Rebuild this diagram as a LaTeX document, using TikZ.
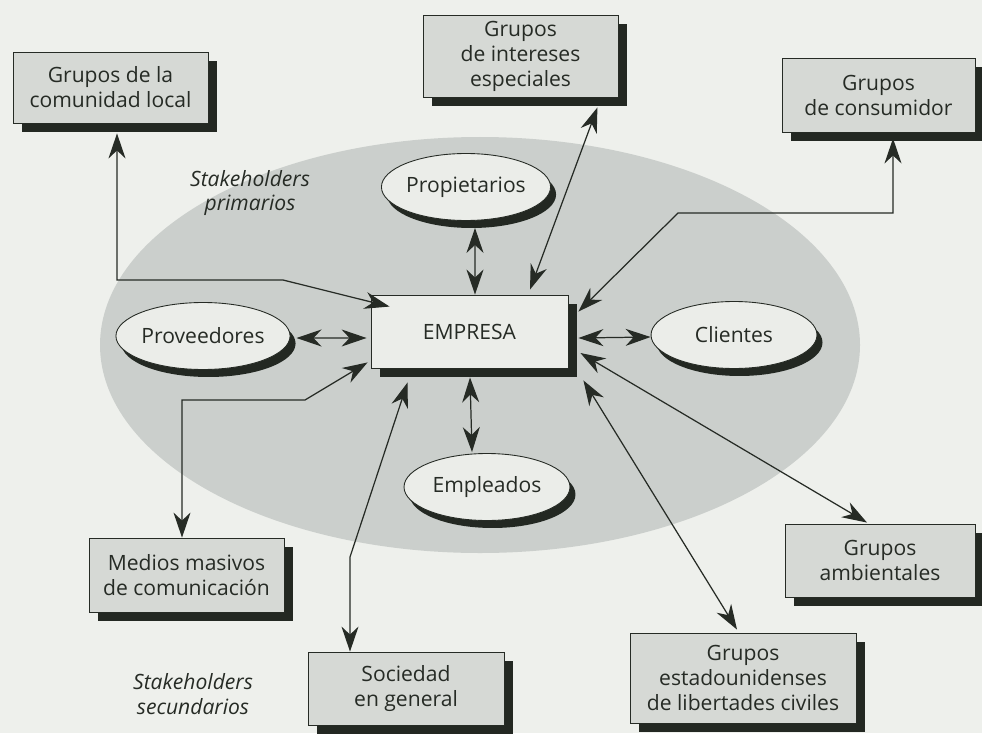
\documentclass[tikz,border=0pt]{standalone}
\usepackage{fontspec}
\setmainfont{Open Sans}
\usetikzlibrary{arrows.meta,shapes.geometric,shadows,calc}

\definecolor{paper}{HTML}{EEF0EC}
\definecolor{halo}{HTML}{CBCFCC}
\definecolor{boxfill}{HTML}{D6D9D5}
\definecolor{ovalfill}{HTML}{EBEDE9}
\definecolor{shade}{HTML}{232822}
\definecolor{ink}{HTML}{262B25}

\begin{document}
\begin{tikzpicture}[x=0.02cm,y=-0.02cm,
  font=\fontsize{12}{14.2}\selectfont, text=ink,
  holder/.style={draw=ink,fill=boxfill,line width=0.5pt,align=center,inner sep=0pt,
    drop shadow={shadow xshift=0.18cm,shadow yshift=-0.18cm,fill=shade,opacity=1}},
  core/.style={holder,fill=ovalfill,minimum width=3.94cm,minimum height=1.46cm},
  oval/.style={ellipse,draw=ink,fill=ovalfill,line width=0.5pt,inner sep=0pt,
    minimum width=3.32cm,minimum height=1.34cm,
    drop shadow={shadow xshift=0.11cm,shadow yshift=-0.15cm,fill=shade,opacity=1}},
  note/.style={align=center,font=\fontsize{12}{14.2}\selectfont\itshape},
  link/.style={draw=ink,line width=0.7pt,
    {Stealth[length=0.5cm,width=0.34cm,inset=0.16cm]}-{Stealth[length=0.5cm,width=0.34cm,inset=0.16cm]}}]
\useasboundingbox[fill=paper] (0,0) rectangle (982,733);

% fondo
\fill[halo] (480,345) ellipse [x radius=380,y radius=208];

% cajas
\node[holder,minimum width=3.9cm,minimum height=1.42cm] (com) at (110.5,87.5) {Grupos de la\\comunidad local};
\node[holder,minimum width=3.9cm,minimum height=1.64cm] (int) at (520.5,56) {Grupos\\de intereses\\especiales};
\node[holder,minimum width=3.86cm,minimum height=1.48cm] (cons) at (878.5,95) {Grupos\\de consumidor};
\node[holder,minimum width=3.9cm,minimum height=1.48cm] (med) at (186.5,575) {Medios masivos\\de comunicación};
\node[holder,minimum width=3.92cm,minimum height=1.46cm] (soc) at (406,688.5) {Sociedad\\en general};
\node[holder,minimum width=4.52cm,minimum height=1.8cm] (est) at (743,678) {Grupos\\estadounidenses\\de libertades civiles};
\node[holder,minimum width=3.8cm,minimum height=1.46cm] (amb) at (880,560.5) {Grupos\\ambientales};
\node[core] (emp) at (469.5,331.5) {EMPRESA};

% elipses
\node[oval] (prop) at (466,187) {Propietarios};
\node[oval] (prov) at (203,336) {Proveedores};
\node[oval] (cli) at (734,335) {Clientes};
\node[oval] (empl) at (487,487) {Empleados};

\node[note] (prim) at (250,193) {Stakeholders\\primarios};
\node[note] (sec) at (193,694) {Stakeholders\\secundarios};

% quiebres
\coordinate (c1) at (117,280);
\coordinate (c2) at (283,280);
\coordinate (k1) at (893,213);
\coordinate (k2) at (678,213);
\coordinate (s1) at (350,557);
\coordinate (m1) at (305,400);
\coordinate (m2) at (182,400);

% conexiones
\draw[link] ($(com.south)+(6.5,10)$) -- (c1) -- (c2) -- ($(emp.north west)+(19,12)$);
\draw[link] ($(prop.south)+(9,7)$) -- ($(emp.north)+(5.5,0)$);
\draw[link] ($(int.south east)+(-21,10)$) -- ($(emp.north)+(60.5,-5)$);
\draw[link] ($(cons.south)+(14.5,6)$) -- (k1) -- (k2) -- ($(emp.north east)+(10,17)$);
\draw[link] ($(prov.east)+(6,2)$) -- ($(emp.west)+(-4,6.5)$);
\draw[link] ($(emp.east)+(10,6.5)$) -- ($(cli.west)+(0,2)$);
\draw[link] ($(emp.east)+(12,21.5)$) -- ($(amb.north)+(-13,-1)$);
\draw[link] ($(emp.south east)+(15,12)$) -- ($(est.north)+(-6,-3)$);
\draw[link] ($(emp.south)+(0.5,9)$) -- ($(empl.north)+(-15,-1)$);
\draw[link] ($(emp.south west)+(37,14)$) -- (s1) -- ($(soc.north)+(-56,0)$);
\draw[link] ($(emp.south west)+(-3,-6)$) -- (m1) -- (m2) -- ($(med.north)+(-4.5,0)$);
\end{tikzpicture}
\end{document}
